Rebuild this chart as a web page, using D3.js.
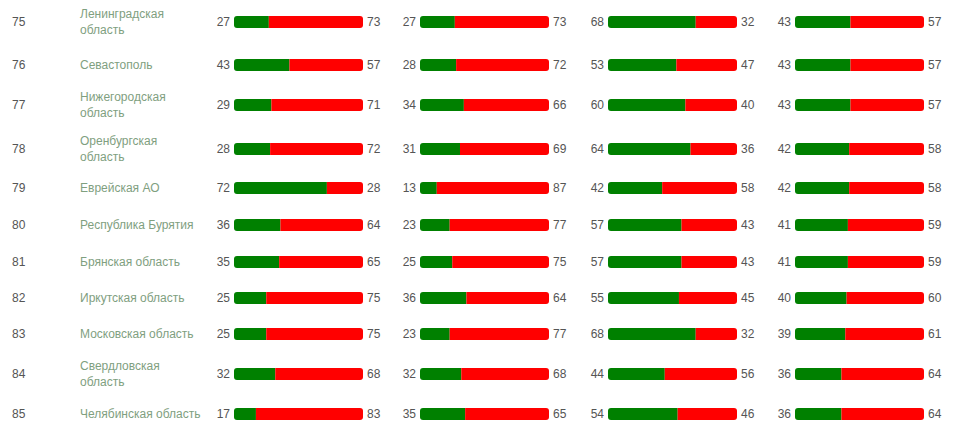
<!DOCTYPE html>
<html><head><meta charset="utf-8">
<script src="https://cdn.jsdelivr.net/npm/d3@7"></script>
<style>body{margin:0;background:#fff;font-family:"Liberation Sans",Arial,sans-serif;}</style>
</head><body><div id="chart"></div>
<script>
var ranks = [75, 76, 77, 78, 79, 80, 81, 82, 83, 84, 85];
var regions = [
  ["Ленинградская", "область"], ["Севастополь"], ["Нижегородская", "область"],
  ["Оренбургская", "область"], ["Еврейская АО"], ["Республика Бурятия"],
  ["Брянская область"], ["Иркутская область"], ["Московская область"],
  ["Свердловская", "область"], ["Челябинская область"]
];
// green share per question column
var col1 = [27, 43, 29, 28, 72, 36, 35, 25, 25, 32, 17];
var col2 = [27, 28, 34, 31, 13, 23, 25, 36, 23, 32, 35];
var col3 = [68, 53, 60, 64, 42, 57, 57, 55, 68, 44, 54];
var col4 = [43, 43, 43, 42, 42, 41, 41, 40, 39, 36, 36];
var columns = [col1, col2, col3, col4];
var rowY = [22, 65, 105, 149, 188, 225, 262, 298, 334, 374, 414];

var width = 957, height = 438;
var barStarts = [234, 420, 608, 795];
var barW = 129, barH = 12;

var svg = d3.select('#chart').append('svg')
  .attr('width', width).attr('height', height);

var x = d3.scaleLinear().domain([0, 100]).range([0, barW]);

var rows = svg.selectAll('g.row')
  .data(ranks)
  .enter()
  .append('g')
  .attr('class', 'row')
  .attr('transform', (d, i) => 'translate(0,' + rowY[i] + ')');

rows.append('text')
  .attr('x', 12).attr('dy', '0.35em')
  .style('font-size', '12px').style('fill', '#555')
  .text(d => d);

rows.append('text')
  .attr('x', 80)
  .style('font-size', '12px').style('fill', '#7fa07f')
  .each(function(d, i) {
    var lines = regions[i];
    var t = d3.select(this);
    lines.forEach((line, j) => {
      t.append('tspan')
        .attr('x', 80)
        .attr('y', lines.length === 1 ? 0 : (j - 0.5) * 16)
        .attr('dy', '0.35em')
        .text(line);
    });
  });

columns.forEach((col, c) => {
  var x0 = barStarts[c];
  rows.each(function(d, i) {
    var g = d3.select(this);
    var v = col[i];
    var clipId = 'clip' + c + '_' + i;
    g.append('clipPath').attr('id', clipId)
      .append('rect')
      .attr('x', x0).attr('y', -barH / 2)
      .attr('width', barW).attr('height', barH)
      .attr('rx', 3);
    var bar = g.append('g').attr('clip-path', 'url(#' + clipId + ')');
    bar.append('rect')
      .attr('x', x0).attr('y', -barH / 2)
      .attr('width', x(v)).attr('height', barH)
      .style('fill', '#008000');
    bar.append('rect')
      .attr('x', x0 + x(v)).attr('y', -barH / 2)
      .attr('width', x(100 - v)).attr('height', barH)
      .style('fill', '#ff0000');
    g.append('text')
      .attr('x', x0 - 4).attr('dy', '0.35em')
      .attr('text-anchor', 'end')
      .style('font-size', '12px').style('fill', '#555')
      .text(v);
    g.append('text')
      .attr('x', x0 + barW + 4).attr('dy', '0.35em')
      .style('font-size', '12px').style('fill', '#555')
      .text(100 - v);
  });
});
</script></body></html>
